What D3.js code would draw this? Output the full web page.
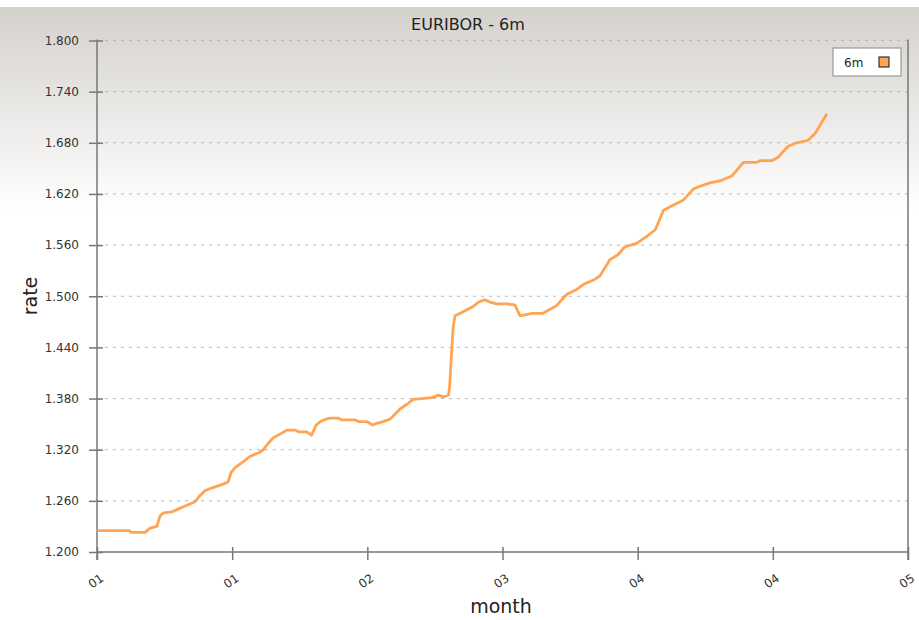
<!DOCTYPE html>
<html>
<head>
<meta charset="utf-8">
<script src="https://cdn.jsdelivr.net/npm/d3@7"></script>
<style>
  body { margin: 0; background: #fff; }
  svg { display: block; font-family: "DejaVu Sans", Verdana, sans-serif; }
</style>
</head>
<body>
<div id="chart"></div>
<script>
// EURIBOR 6m, day offset from start and rate
var days = [0, 5.5, 5.8, 8.2, 9.0, 10.2, 10.7, 11.3, 12.7, 13.7, 15.0, 16.7, 17.5, 18.4, 19.5,
  21.2, 22.3, 22.8, 23.5, 24.9, 26.0, 27.7, 28.3, 29.2, 30.0, 31.1, 32.3, 33.7, 34.3, 35.7,
  36.5, 37.3, 38.0, 39.0, 39.7, 41.1, 41.6, 43.9, 44.5, 45.9, 46.9, 47.6, 48.7, 49.9, 51.6,
  52.7, 53.8, 55.3, 57.0, 58.1, 58.9, 59.8, 60.0, 60.2, 60.4, 60.6, 60.9, 61.8, 63.2, 64.0,
  64.9, 66.0, 66.9, 68.0, 69.7, 71.1, 72.0, 74.0, 75.9, 78.2, 79.9, 81.6, 82.8, 84.5, 85.6,
  87.3, 88.7, 89.8, 91.8, 93.5, 95.0, 96.4, 98.1, 99.8, 101.5, 102.6, 104.3, 106.3, 108.0,
  110.0, 112.3, 112.8, 114.8, 115.9, 117.6, 119.1, 121.0, 122.2, 124.2];
var rates = [1.225, 1.225, 1.223, 1.223, 1.228, 1.230, 1.242, 1.246, 1.247, 1.250, 1.254, 1.259, 1.266, 1.272, 1.275,
  1.279, 1.282, 1.293, 1.299, 1.306, 1.312, 1.317, 1.320, 1.328, 1.334, 1.338, 1.343, 1.343, 1.341, 1.341,
  1.337, 1.349, 1.353, 1.356, 1.357, 1.357, 1.355, 1.355, 1.353, 1.353, 1.349, 1.351, 1.353, 1.356, 1.368,
  1.373, 1.379, 1.380, 1.381, 1.384, 1.382, 1.384, 1.394, 1.418, 1.441, 1.463, 1.477, 1.480, 1.485, 1.488,
  1.493, 1.496, 1.493, 1.491, 1.491, 1.490, 1.477, 1.480, 1.480, 1.489, 1.502, 1.508, 1.514, 1.519, 1.524,
  1.543, 1.549, 1.558, 1.562, 1.570, 1.578, 1.601, 1.607, 1.613, 1.626, 1.629, 1.633, 1.636, 1.641,
  1.657, 1.657, 1.659, 1.659, 1.663, 1.676, 1.680, 1.683, 1.691, 1.714];

var xTickDays = [0, 23, 46, 69, 92, 115, 138];
var xTickLabels = ["01", "01", "02", "03", "04", "04", "05"];
var yTicks = [1.200, 1.260, 1.320, 1.380, 1.440, 1.500, 1.560, 1.620, 1.680, 1.740, 1.800];

var width = 919, height = 620;
var mLeft = 97, mRight = 908, mTop = 40.5, mBottom = 552;

var svg = d3.select("#chart").append("svg")
    .attr("width", width)
    .attr("height", height);

var defs = svg.append("defs");
var grad = defs.append("linearGradient")
    .attr("id", "bg")
    .attr("x1", 0).attr("y1", 0).attr("x2", 0).attr("y2", 1);
grad.append("stop").attr("offset", "0%").attr("stop-color", "#d4d1cd");
grad.append("stop").attr("offset", "100%").attr("stop-color", "#ffffff");

svg.append("rect")
    .attr("x", 0).attr("y", 7)
    .attr("width", width).attr("height", 205)
    .attr("fill", "url(#bg)");

var x = d3.scaleLinear().domain([0, 138]).range([mLeft, mRight]);
var y = d3.scaleLinear().domain([1.2, 1.8]).range([mBottom, mTop]);

// grid
svg.append("g")
    .selectAll("line")
    .data(yTicks.slice(1))
    .enter().append("line")
    .attr("x1", mLeft).attr("x2", mRight)
    .attr("y1", function(d) { return y(d); })
    .attr("y2", function(d) { return y(d); })
    .attr("stroke", "#b8b8b8")
    .attr("stroke-width", 1)
    .attr("stroke-dasharray", "3,5");

// y axis
var yAxis = d3.axisLeft(y)
    .tickValues(yTicks)
    .tickFormat(d3.format(".3f"))
    .tickSize(0)
    .tickPadding(18);
var gy = svg.append("g")
    .attr("transform", "translate(" + mLeft + ",0)")
    .call(yAxis);
gy.attr("font-size", 12).attr("font-family", "Verdana, 'DejaVu Sans', sans-serif");
gy.select(".domain").remove();
gy.selectAll("text").attr("fill", "#333");
gy.selectAll(".tick").append("line")
    .attr("x1", -8).attr("x2", 6)
    .attr("stroke", "#777").attr("stroke-width", 1.5);

// x axis
var xAxis = d3.axisBottom(x)
    .tickValues(xTickDays)
    .tickFormat(function(d, i) { return xTickLabels[i]; })
    .tickSize(0);
var gx = svg.append("g")
    .attr("transform", "translate(0," + mBottom + ")")
    .call(xAxis);
gx.attr("font-size", 12).attr("font-family", "Verdana, 'DejaVu Sans', sans-serif");
gx.select(".domain").remove();
gx.selectAll(".tick").append("line")
    .attr("y1", -5).attr("y2", 8)
    .attr("stroke", "#777").attr("stroke-width", 1.5);
gx.selectAll("text")
    .attr("fill", "#333")
    .attr("y", 0).attr("dy", 0)
    .attr("text-anchor", "end")
    .attr("transform", "translate(7,28) rotate(-35)");

// axis lines
svg.append("line")
    .attr("x1", mLeft).attr("x2", mLeft).attr("y1", mTop - 1).attr("y2", mBottom + 8)
    .attr("stroke", "#777").attr("stroke-width", 1.5);
svg.append("line")
    .attr("x1", mLeft).attr("x2", mRight).attr("y1", mBottom).attr("y2", mBottom)
    .attr("stroke", "#777").attr("stroke-width", 1.5);
svg.append("line")
    .attr("x1", mRight).attr("x2", mRight).attr("y1", mTop - 1).attr("y2", mBottom + 8)
    .attr("stroke", "#777").attr("stroke-width", 1.5);

// series line
var points = days.map(function(d, i) { return [d, rates[i]]; });
var line = d3.line()
    .x(function(d) { return x(d[0]); })
    .y(function(d) { return y(d[1]); });
svg.append("path")
    .datum(points)
    .attr("fill", "none")
    .attr("stroke", "#ffa452")
    .attr("stroke-width", 2.8)
    .attr("stroke-linejoin", "round")
    .attr("d", line);

// title
svg.append("text")
    .attr("x", 468).attr("y", 30)
    .attr("text-anchor", "middle")
    .attr("font-size", 16)
    .attr("fill", "#222")
    .text("EURIBOR - 6m");

// axis labels
svg.append("text")
    .attr("transform", "translate(37,296) rotate(-90)")
    .attr("text-anchor", "middle")
    .attr("font-size", 19)
    .attr("fill", "#222")
    .text("rate");
svg.append("text")
    .attr("x", 501).attr("y", 613)
    .attr("text-anchor", "middle")
    .attr("font-size", 19)
    .attr("fill", "#222")
    .text("month");

// legend
var legend = svg.append("g").attr("transform", "translate(833,48)");
legend.append("rect")
    .attr("width", 68).attr("height", 28)
    .attr("fill", "#fff")
    .attr("stroke", "#999").attr("stroke-width", 1.2);
legend.append("text")
    .attr("x", 11).attr("y", 19)
    .attr("font-size", 12).attr("fill", "#222")
    .text("6m");
legend.append("rect")
    .attr("x", 46).attr("y", 9)
    .attr("width", 10).attr("height", 10)
    .attr("fill", "#ffa452")
    .attr("stroke", "#333").attr("stroke-width", 1.2);
</script>
</body>
</html>
